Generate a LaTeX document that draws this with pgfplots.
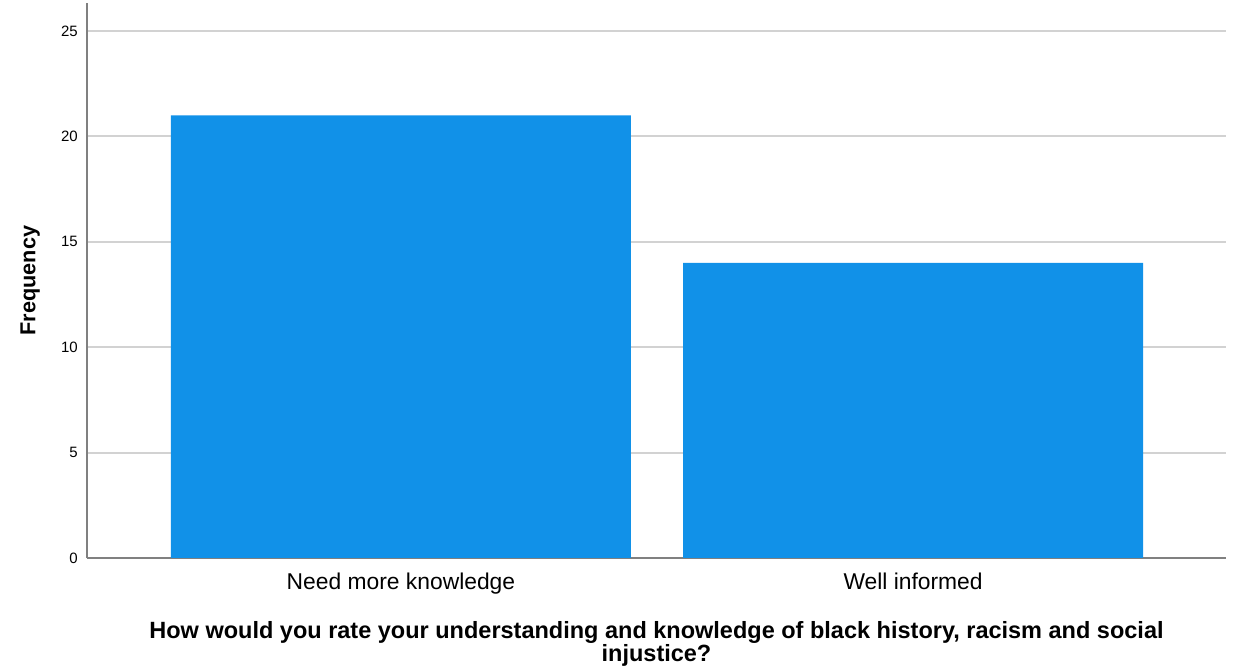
\documentclass[border=0pt]{standalone}
\usepackage{pgfplots}
\pgfplotsset{compat=1.18}
\usepackage{fontspec}
\setmainfont{Liberation Sans}
\definecolor{barblue}{RGB}{17,145,232}
\definecolor{gridgray}{RGB}{210,210,210}
\definecolor{axgray}{RGB}{128,128,128}
\begin{document}
\begin{tikzpicture}
\begin{axis}[
  name=ax,
  scale only axis,
  width=683.4pt, height=333pt,
  xmin=-0.613, xmax=1.611,
  ymin=0, ymax=26.33,
  axis x line*=bottom, axis y line*=left,
  axis line style={axgray, line width=1.2pt},
  xtick={0,1},
  xticklabels={Need more knowledge, Well informed},
  ytick={0,5,10,15,20,25},
  major tick length=0pt,
  ymajorgrids,
  grid style={gridgray, line width=1.2pt},
  /pgf/number format/assume math mode=true,
  yticklabel style={font=\fontsize{9}{10}\selectfont, xshift=-2pt},
  xticklabel style={font=\fontsize{13.7}{15}\selectfont, yshift=-5.5pt},
  ylabel={\textbf{Frequency}},
  ylabel style={at={(axis description cs:-0.05,0.5)}, anchor=center, font=\fontsize{13}{14}\selectfont},
  xlabel={\textbf{How would you rate your understanding and knowledge of black history, racism and social}\\[-0.6pt]\textbf{injustice?}},
  xlabel style={at={(axis description cs:0.5,-0.104)}, anchor=north, align=center, font=\fontsize{14.1}{12.6}\selectfont},
]
\addplot[ybar, bar width=0.898, fill=barblue, draw=none] coordinates {(0,21) (1,14)};
\end{axis}
\path ([shift={(-52.2pt,-64.2pt)}]ax.south west) rectangle ([shift={(8.4pt,1.8pt)}]ax.north east);
\end{tikzpicture}
\end{document}
